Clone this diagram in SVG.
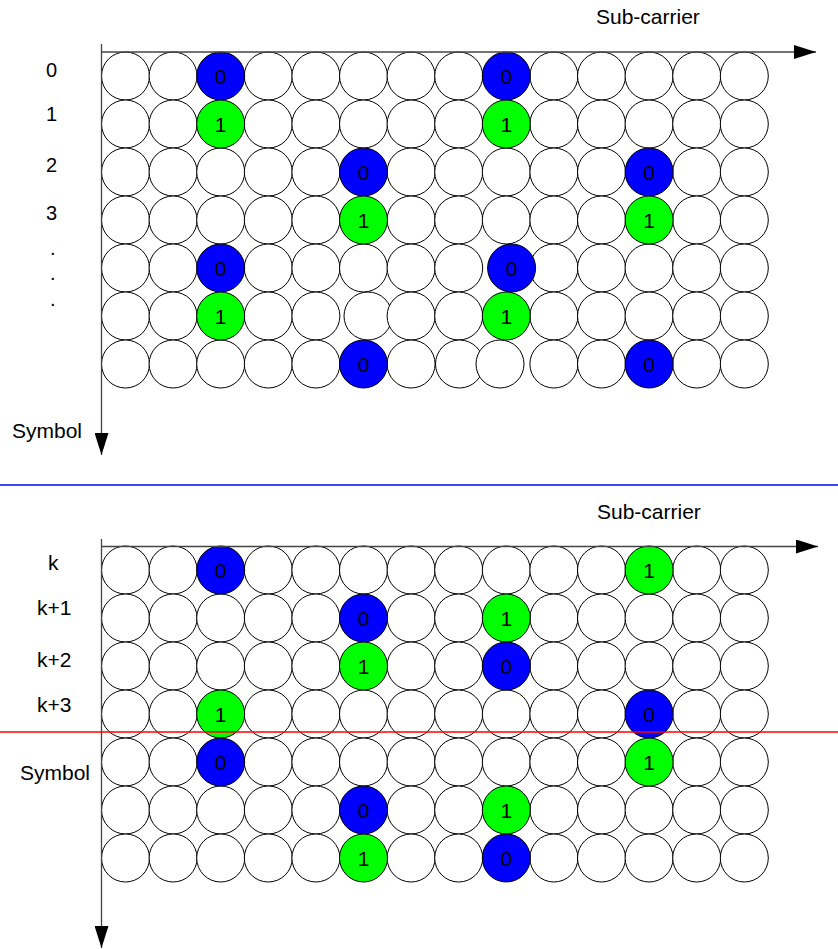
<svg xmlns="http://www.w3.org/2000/svg" xmlns:xlink="http://www.w3.org/1999/xlink" width="838" height="949" viewBox="0 0 838 949">
<style>
.c{fill:#fff;stroke:#000;stroke-width:1}
.b{fill:#0000ff;stroke:#000;stroke-width:1}
.g{fill:#00ff00;stroke:#000;stroke-width:1}
.ax{stroke:#444;stroke-width:1.3;fill:none}
text{font-family:"Liberation Sans",Arial,sans-serif;fill:#000}
.lb{font-size:21px}
.rl{font-size:20px}
.d{font-size:21px;text-anchor:middle}
</style>
<defs>
<circle id="w" r="24" class="c"/>
<marker id="ah" viewBox="0 0 22 14" refX="22" refY="7" markerWidth="22" markerHeight="14" markerUnits="userSpaceOnUse" orient="auto"><path d="M0,0 L22,7 L0,14 Z" fill="#000"/></marker>
</defs>
<rect width="838" height="949" fill="#fff"/>

<!-- TOP GRID -->
<g id="top-grid">
<g id="top-r0"><use href="#w" x="125.5" y="76"/><use href="#w" x="173.1" y="76"/><use href="#w" x="268.3" y="76"/><use href="#w" x="315.9" y="76"/><use href="#w" x="363.5" y="76"/><use href="#w" x="411.1" y="76"/><use href="#w" x="458.7" y="76"/><use href="#w" x="553.9" y="76"/><use href="#w" x="601.5" y="76"/><use href="#w" x="649.1" y="76"/><use href="#w" x="696.7" y="76"/><use href="#w" x="744.3" y="76"/></g>
<g id="top-r1"><use href="#w" x="125.5" y="124"/><use href="#w" x="173.1" y="124"/><use href="#w" x="268.3" y="124"/><use href="#w" x="315.9" y="124"/><use href="#w" x="363.5" y="124"/><use href="#w" x="411.1" y="124"/><use href="#w" x="458.7" y="124"/><use href="#w" x="553.9" y="124"/><use href="#w" x="601.5" y="124"/><use href="#w" x="649.1" y="124"/><use href="#w" x="696.7" y="124"/><use href="#w" x="744.3" y="124"/></g>
<g id="top-r2"><use href="#w" x="125.5" y="172"/><use href="#w" x="173.1" y="172"/><use href="#w" x="220.7" y="172"/><use href="#w" x="268.3" y="172"/><use href="#w" x="315.9" y="172"/><use href="#w" x="411.1" y="172"/><use href="#w" x="458.7" y="172"/><use href="#w" x="506.3" y="172"/><use href="#w" x="553.9" y="172"/><use href="#w" x="601.5" y="172"/><use href="#w" x="696.7" y="172"/><use href="#w" x="744.3" y="172"/></g>
<g id="top-r3"><use href="#w" x="125.5" y="220"/><use href="#w" x="173.1" y="220"/><use href="#w" x="220.7" y="220"/><use href="#w" x="268.3" y="220"/><use href="#w" x="315.9" y="220"/><use href="#w" x="411.1" y="220"/><use href="#w" x="458.7" y="220"/><use href="#w" x="506.3" y="220"/><use href="#w" x="553.9" y="220"/><use href="#w" x="601.5" y="220"/><use href="#w" x="696.7" y="220"/><use href="#w" x="744.3" y="220"/></g>
<g id="top-r4"><use href="#w" x="125.5" y="268"/><use href="#w" x="173.1" y="268"/><use href="#w" x="268.3" y="268"/><use href="#w" x="315.9" y="268"/><use href="#w" x="363.5" y="268"/><use href="#w" x="411.1" y="268"/><use href="#w" x="458.7" y="268"/><use href="#w" x="553.9" y="268"/><use href="#w" x="601.5" y="268"/><use href="#w" x="649.1" y="268"/><use href="#w" x="696.7" y="268"/><use href="#w" x="744.3" y="268"/></g>
<g id="top-r5"><use href="#w" x="125.5" y="316"/><use href="#w" x="173.1" y="316"/><use href="#w" x="268.3" y="316"/><use href="#w" x="315.9" y="316"/><use href="#w" x="368" y="316"/><use href="#w" x="411.1" y="316"/><use href="#w" x="458.7" y="316"/><use href="#w" x="553.9" y="316"/><use href="#w" x="601.5" y="316"/><use href="#w" x="649.1" y="316"/><use href="#w" x="696.7" y="316"/><use href="#w" x="744.3" y="316"/></g>
<g id="top-r6"><use href="#w" x="125.5" y="364"/><use href="#w" x="173.1" y="364"/><use href="#w" x="220.7" y="364"/><use href="#w" x="268.3" y="364"/><use href="#w" x="315.9" y="364"/><use href="#w" x="411.1" y="364"/><use href="#w" x="459.5" y="364"/><use href="#w" x="500" y="364"/><use href="#w" x="553.9" y="364"/><use href="#w" x="601.5" y="364"/><use href="#w" x="696.7" y="364"/><use href="#w" x="744.3" y="364"/></g>

<g id="t-r0c2"><circle cx="220.7" cy="76" r="24" class="b"/><text class="d" x="220.7" y="83.5">0</text></g>
<g id="t-r0c8"><circle cx="506.3" cy="76" r="24" class="b"/><text class="d" x="506.3" y="83.5">0</text></g>
<g id="t-r1c2"><circle cx="220.7" cy="124" r="24" class="g"/><text class="d" x="220.7" y="131.5">1</text></g>
<g id="t-r1c8"><circle cx="506.3" cy="124" r="24" class="g"/><text class="d" x="506.3" y="131.5">1</text></g>
<g id="t-r2c5"><circle cx="363.5" cy="172" r="24" class="b"/><text class="d" x="363.5" y="179.5">0</text></g>
<g id="t-r2c11"><circle cx="649.1" cy="172" r="24" class="b"/><text class="d" x="649.1" y="179.5">0</text></g>
<g id="t-r3c5"><circle cx="363.5" cy="220" r="24" class="g"/><text class="d" x="363.5" y="227.5">1</text></g>
<g id="t-r3c11"><circle cx="649.1" cy="220" r="24" class="g"/><text class="d" x="649.1" y="227.5">1</text></g>
<g id="t-r4c2"><circle cx="220.7" cy="268" r="24" class="b"/><text class="d" x="220.7" y="275.5">0</text></g>
<g id="t-r4c8"><circle cx="511.6" cy="268" r="24" class="b"/><text class="d" x="511.6" y="275.5">0</text></g>
<g id="t-r5c2"><circle cx="220.7" cy="316" r="24" class="g"/><text class="d" x="220.7" y="323.5">1</text></g>
<g id="t-r5c8"><circle cx="506.3" cy="316" r="24" class="g"/><text class="d" x="506.3" y="323.5">1</text></g>
<g id="t-r6c5"><circle cx="363.5" cy="364" r="24" class="b"/><text class="d" x="363.5" y="371.5">0</text></g>
<g id="t-r6c11"><circle cx="649.1" cy="364" r="24" class="b"/><text class="d" x="649.1" y="371.5">0</text></g>
</g>

<!-- BOTTOM GRID -->
<g id="bottom-grid">
<g id="bot-r0"><use href="#w" x="125.5" y="570"/><use href="#w" x="173.1" y="570"/><use href="#w" x="268.3" y="570"/><use href="#w" x="315.9" y="570"/><use href="#w" x="363.5" y="570"/><use href="#w" x="411.1" y="570"/><use href="#w" x="458.7" y="570"/><use href="#w" x="506.3" y="570"/><use href="#w" x="553.9" y="570"/><use href="#w" x="601.5" y="570"/><use href="#w" x="696.7" y="570"/><use href="#w" x="744.3" y="570"/></g>
<g id="bot-r1"><use href="#w" x="125.5" y="618"/><use href="#w" x="173.1" y="618"/><use href="#w" x="220.7" y="618"/><use href="#w" x="268.3" y="618"/><use href="#w" x="315.9" y="618"/><use href="#w" x="411.1" y="618"/><use href="#w" x="458.7" y="618"/><use href="#w" x="553.9" y="618"/><use href="#w" x="601.5" y="618"/><use href="#w" x="649.1" y="618"/><use href="#w" x="696.7" y="618"/><use href="#w" x="744.3" y="618"/></g>
<g id="bot-r2"><use href="#w" x="125.5" y="666"/><use href="#w" x="173.1" y="666"/><use href="#w" x="220.7" y="666"/><use href="#w" x="268.3" y="666"/><use href="#w" x="315.9" y="666"/><use href="#w" x="411.1" y="666"/><use href="#w" x="458.7" y="666"/><use href="#w" x="553.9" y="666"/><use href="#w" x="601.5" y="666"/><use href="#w" x="649.1" y="666"/><use href="#w" x="696.7" y="666"/><use href="#w" x="744.3" y="666"/></g>
<g id="bot-r3"><use href="#w" x="125.5" y="714"/><use href="#w" x="173.1" y="714"/><use href="#w" x="268.3" y="714"/><use href="#w" x="315.9" y="714"/><use href="#w" x="363.5" y="714"/><use href="#w" x="411.1" y="714"/><use href="#w" x="458.7" y="714"/><use href="#w" x="506.3" y="714"/><use href="#w" x="553.9" y="714"/><use href="#w" x="601.5" y="714"/><use href="#w" x="696.7" y="714"/><use href="#w" x="744.3" y="714"/></g>
<g id="bot-r4"><use href="#w" x="125.5" y="762"/><use href="#w" x="173.1" y="762"/><use href="#w" x="268.3" y="762"/><use href="#w" x="315.9" y="762"/><use href="#w" x="363.5" y="762"/><use href="#w" x="411.1" y="762"/><use href="#w" x="458.7" y="762"/><use href="#w" x="506.3" y="762"/><use href="#w" x="553.9" y="762"/><use href="#w" x="601.5" y="762"/><use href="#w" x="696.7" y="762"/><use href="#w" x="744.3" y="762"/></g>
<g id="bot-r5"><use href="#w" x="125.5" y="810"/><use href="#w" x="173.1" y="810"/><use href="#w" x="220.7" y="810"/><use href="#w" x="268.3" y="810"/><use href="#w" x="315.9" y="810"/><use href="#w" x="411.1" y="810"/><use href="#w" x="458.7" y="810"/><use href="#w" x="553.9" y="810"/><use href="#w" x="601.5" y="810"/><use href="#w" x="649.1" y="810"/><use href="#w" x="696.7" y="810"/><use href="#w" x="744.3" y="810"/></g>
<g id="bot-r6"><use href="#w" x="125.5" y="858"/><use href="#w" x="173.1" y="858"/><use href="#w" x="220.7" y="858"/><use href="#w" x="268.3" y="858"/><use href="#w" x="315.9" y="858"/><use href="#w" x="411.1" y="858"/><use href="#w" x="458.7" y="858"/><use href="#w" x="553.9" y="858"/><use href="#w" x="601.5" y="858"/><use href="#w" x="649.1" y="858"/><use href="#w" x="696.7" y="858"/><use href="#w" x="744.3" y="858"/></g>

<g id="b-r0c2"><circle cx="220.7" cy="570" r="24" class="b"/><text class="d" x="220.7" y="577.5">0</text></g>
<g id="b-r0c11"><circle cx="649.1" cy="570" r="24" class="g"/><text class="d" x="649.1" y="577.5">1</text></g>
<g id="b-r1c5"><circle cx="363.5" cy="618" r="24" class="b"/><text class="d" x="363.5" y="625.5">0</text></g>
<g id="b-r1c8"><circle cx="506.3" cy="618" r="24" class="g"/><text class="d" x="506.3" y="625.5">1</text></g>
<g id="b-r2c5"><circle cx="363.5" cy="666" r="24" class="g"/><text class="d" x="363.5" y="673.5">1</text></g>
<g id="b-r2c8"><circle cx="506.3" cy="666" r="24" class="b"/><text class="d" x="506.3" y="673.5">0</text></g>
<g id="b-r3c2"><circle cx="220.7" cy="714" r="24" class="g"/><text class="d" x="220.7" y="721.5">1</text></g>
<g id="b-r3c11"><circle cx="649.1" cy="714" r="24" class="b"/><text class="d" x="649.1" y="721.5">0</text></g>
<g id="b-r4c2"><circle cx="220.7" cy="762" r="24" class="b"/><text class="d" x="220.7" y="769.5">0</text></g>
<g id="b-r4c11"><circle cx="649.1" cy="762" r="24" class="g"/><text class="d" x="649.1" y="769.5">1</text></g>
<g id="b-r5c5"><circle cx="363.5" cy="810" r="24" class="b"/><text class="d" x="363.5" y="817.5">0</text></g>
<g id="b-r5c8"><circle cx="506.3" cy="810" r="24" class="g"/><text class="d" x="506.3" y="817.5">1</text></g>
<g id="b-r6c5"><circle cx="363.5" cy="858" r="24" class="g"/><text class="d" x="363.5" y="865.5">1</text></g>
<g id="b-r6c8"><circle cx="506.3" cy="858" r="24" class="b"/><text class="d" x="506.3" y="865.5">0</text></g>
</g>

<!-- CONNECTORS / AXES -->
<g id="connectors">
<line class="ax" x1="101" y1="52" x2="816" y2="52" marker-end="url(#ah)"/>
<line class="ax" x1="101.5" y1="44" x2="101.5" y2="455" marker-end="url(#ah)"/>
<line class="ax" x1="101" y1="546.5" x2="818" y2="546.5" marker-end="url(#ah)"/>
<line class="ax" x1="101.5" y1="539" x2="101.5" y2="948" marker-end="url(#ah)"/>
<line x1="0" y1="485" x2="838" y2="485" stroke="#0000ff" stroke-width="1.6"/>
<line x1="0" y1="732" x2="838" y2="732" stroke="#ff0000" stroke-width="1.6"/>
</g>

<!-- LABELS -->
<g id="labels">
<text class="lb" x="596" y="24">Sub-carrier</text>
<text class="lb" x="12" y="438">Symbol</text>
<text class="rl" x="46" y="77">0</text>
<text class="rl" x="46" y="121">1</text>
<text class="rl" x="46" y="172">2</text>
<text class="rl" x="46" y="220">3</text>
<text class="rl" x="50" y="255">.</text>
<text class="rl" x="50" y="280">.</text>
<text class="rl" x="50" y="306">.</text>
<text class="lb" x="597" y="519">Sub-carrier</text>
<text class="lb" x="48" y="570">k</text>
<text class="lb" x="37" y="615">k+1</text>
<text class="lb" x="37" y="667">k+2</text>
<text class="lb" x="37" y="712">k+3</text>
<text class="lb" x="20" y="780">Symbol</text>
</g>
</svg>
